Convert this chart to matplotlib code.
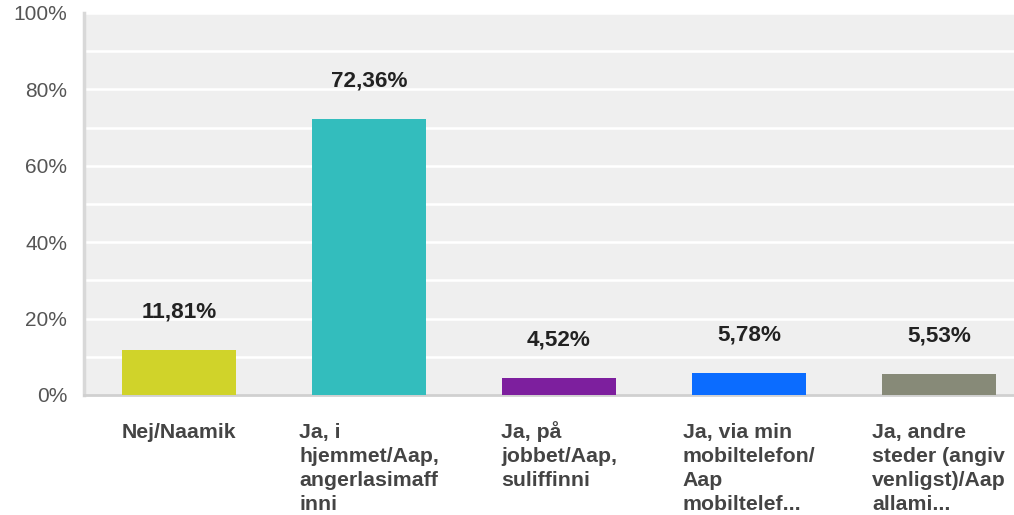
import matplotlib
matplotlib.use("Agg")
import matplotlib.pyplot as plt

categories = ["Nej/Naamik",
              "Ja, i\nhjemmet/Aap,\nangerlasimaff\ninni",
              "Ja, på\njobbet/Aap,\nsuliffinni",
              "Ja, via min\nmobiltelefon/\nAap\nmobiltelef...",
              "Ja, andre\nsteder (angiv\nvenligst)/Aap\nallami..."]
values = [11.81, 72.36, 4.52, 5.78, 5.53]
value_labels = ["11,81%", "72,36%", "4,52%", "5,78%", "5,53%"]
colors = ["#d0d32a", "#33bdbd", "#7d1f9e", "#0b6cff", "#878a78"]
yticks = [0, 20, 40, 60, 80, 100]
ytick_labels = ["0%", "20%", "40%", "60%", "80%", "100%"]

plt.rcParams['font.family'] = ['Liberation Sans', 'DejaVu Sans']

W, H = 1014, 515
fig = plt.figure(figsize=(W/100, H/100), dpi=100)
x0, x1 = 84, 1034
ytop, ybot = 13, 395
ax = fig.add_axes([x0/W, (H-ybot)/H, (x1-x0)/W, (ybot-ytop)/H])
ax.set_facecolor("#efefef")

xs = list(range(len(categories)))
ax.bar(xs, values, width=0.605, color=colors, zorder=3)
ax.set_xlim(-0.5, len(categories)-0.5)
ax.set_ylim(0, 100)

for y in range(10, 101, 10):
    ax.axhline(y, color="white", lw=1.8, zorder=1)

for x, v, lab in zip(xs, values, value_labels):
    ax.annotate(lab, (x, v), xytext=(0, 27), textcoords="offset points",
                ha="center", va="center", fontsize=16.2, fontweight="bold",
                color="#222222", zorder=4)

ax.set_yticks(yticks)
ax.set_yticklabels(ytick_labels, fontsize=15, color="#555555")
ax.tick_params(axis="y", length=0, pad=12)
ax.set_xticks(xs)
ax.set_xticklabels([])
ax.tick_params(axis="x", length=0)

# category labels: block centred on bar, lines left-aligned
lab_kw = dict(fontsize=15.3, fontweight="bold", color="#444444")
renderer = fig.canvas.get_renderer()
first_base = 31.0   # points below axis
step = 17.3         # points between lines
for x, lab in zip(xs, categories):
    lines = lab.split("\n")
    widths = []
    for ln in lines:
        t = fig.text(0, 0, ln, **lab_kw)
        widths.append(t.get_window_extent(renderer).width)
        t.remove()
    half = max(widths) / 2 * 72 / fig.dpi
    for j, ln in enumerate(lines):
        ax.annotate(ln, xy=(x, 0), xycoords=("data", "axes fraction"),
                    xytext=(-half, -first_base - j * step),
                    textcoords="offset points", ha="left", va="baseline",
                    annotation_clip=False, **lab_kw)

for s in ["top", "right"]:
    ax.spines[s].set_visible(False)
ax.spines["left"].set_color("#d8d8d8")
ax.spines["left"].set_linewidth(2.5)
ax.spines["bottom"].set_color("#d0d0d0")
ax.spines["bottom"].set_linewidth(2)

fig.savefig("out.png", dpi=100)
